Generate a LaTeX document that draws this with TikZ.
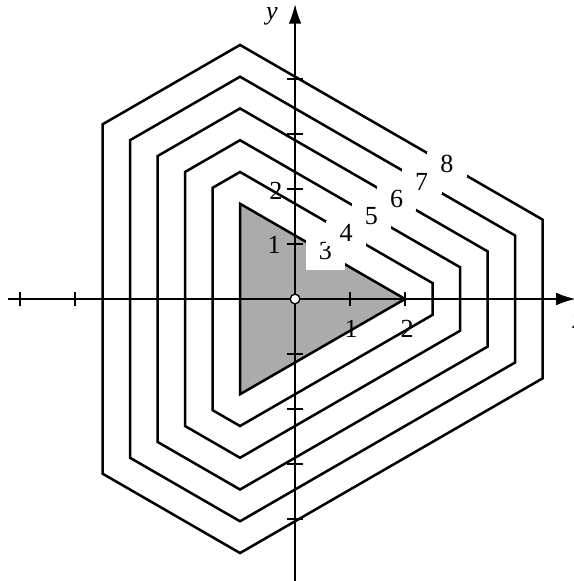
\documentclass[tikz,border=0pt]{standalone}
\usepackage{fontspec}
\setmainfont{Liberation Serif}
\usetikzlibrary{arrows.meta}
\definecolor{shade}{gray}{0.67}
\tikzset{level/.style = {draw, line width = 1.3pt}}
\tikzset{axis/.style = {line width = 0.8pt, -{Latex[length = 10pt, width = 6.5pt]}}}
\tikzset{tick/.style = {line width = 0.8pt}}
\tikzset{value/.style = {fill = white, inner sep = 0pt, minimum width = 0.72cm, minimum height = 0.46cm, font = \fontsize{13.5}{15}\selectfont}}
\tikzset{ticklabel/.style = {inner sep = 1pt, font = \fontsize{13.5}{15}\selectfont}}

\begin{document}
\begin{tikzpicture}
				\useasboundingbox (-5.364, -5.127) rectangle (5.055, 5.436);

				\coordinate (t1) at (2, 0);
				\coordinate (t2) at (-1, {sqrt(3)});
				\coordinate (t3) at (-1, {-sqrt(3)});
				\draw[level, fill = shade] (t1) -- (t2) -- (t3) -- cycle;

				\foreach \c in {4, ..., 8} {
					\draw[level] (-1, {\c/sqrt(3)}) -- ({(\c+1)/2}, {(\c-3)/(2*sqrt(3))})
						-- ({(\c+1)/2}, {-(\c-3)/(2*sqrt(3))}) -- (-1, {-\c/sqrt(3)})
						-- ({-(\c-1)/2}, {-(\c+3)/(2*sqrt(3))}) -- ({-(\c-1)/2}, {(\c+3)/(2*sqrt(3))}) -- cycle;
				}

				\coordinate (xl) at (-5.22, 0);
				\coordinate (xr) at (5.1, 0);
				\coordinate (yb) at (0, -5.2);
				\coordinate (yt) at (0, 5.36);
				\draw[axis] (xl) -- (xr);
				\draw[axis] (yb) -- (yt);
				\node[ticklabel] (xname) at (5.15, -0.42) {\textit{x}};
				\node[ticklabel] (yname) at (-0.42, 5.13) {\textit{y}};

				\foreach \i in {-5, ..., 4}
					\draw[tick] (\i, -0.13) -- (\i, 0.13);
				\foreach \i in {-4, ..., -1, 1, 2, 3, 4}
					\draw[tick] (-0.15, \i) -- (0.15, \i);

				\node[ticklabel] (x1) at (1.02, -0.55) {1};
				\node[ticklabel] (x2) at (2.04, -0.55) {2};
				\node[ticklabel] (y1) at (-0.38, 0.98) {1};
				\node[ticklabel] (y2) at (-0.35, 1.96) {2};

				\node[circle, draw, fill = white, inner sep = 0pt, minimum size = 5pt, line width = 0.7pt] (o) at (0, 0) {};

				\node[value, minimum width = 0.71cm, minimum height = 0.69cm] (l3) at (0.55, 0.87) {3};
				\foreach \c in {4, ..., 8} {
					\pgfmathsetmacro{\lx}{0.93 + 0.458*(\c-4)}
					\pgfmathsetmacro{\ly}{((\c-1)/2 - \lx/2)/0.866}
					\node[value] (l\c) at (\lx, \ly) {\c};
				}
			\end{tikzpicture}
\end{document}
